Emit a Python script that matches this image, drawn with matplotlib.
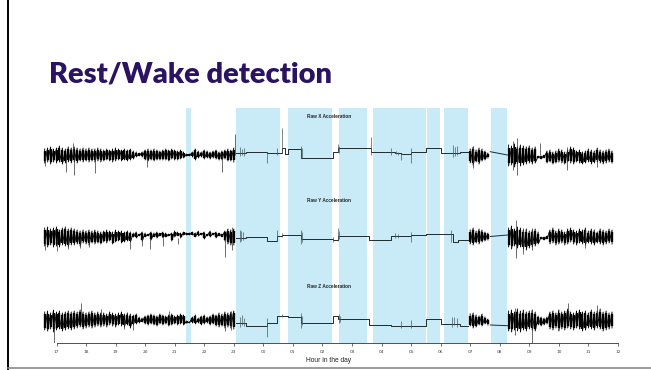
import numpy as np
import matplotlib.pyplot as plt
from matplotlib.lines import Line2D

# hour axis on a running scale: 24 = midnight, 36 = noon of the next day
ticks = list(range(17, 37))
tick_labels = ["17", "18", "19", "20", "21", "22", "23", "00", "01", "02",
               "03", "04", "05", "06", "07", "08", "09", "10", "11", "12"]

# detected rest periods (shaded)
rest_spans = [(21.37, 21.54), (23.06, 24.56), (24.82, 26.33), (26.55, 27.51),
              (27.70, 29.49), (29.55, 29.99), (30.10, 30.92), (31.70, 32.26)]

# active periods, 0.1 h bins: 16.6-23.0, 31.0-31.6, 32.3-35.8
bin_t = np.concatenate([np.arange(166, 231), np.arange(310, 317),
                        np.arange(323, 359)]) / 10

# ---- Raw X ----
x_hi = ([6, 7, 8, 6, 7, 9, 7, 6, 8, 7, 8, 7, 6, 7, 6, 7, 6, 6, 7, 6,
         5, 6, 5, 6, 7, 6, 5, 6, 5, 6, 4, 3, 2, 3, 5, 6, 5, 6, 5, 4,
         5, 6, 5, 6, 5, 4, 5, 3, 1, 1,
         3, 6, 4, 3, 5, 4, 3, 4, 5, 3, 4, 5, 6, 5, 7]
        + [6, 8, 5, 7, 6, 4, 2]
        + [10, 9, 11, 8, 10, 9, 8, 9, 7, 8, -1, -1, 0,
           4, 5, 3, 4, 6, 5, 3, 5, 8, 7, 4, 5, 3, 4, 6, 5, 4, 7, 5, 4, 5, 6, 4])
x_lo = ([-8, -7, -9, -7, -8, -7, -9, -8, -7, -8, -7, -8, -6, -7, -6, -7, -6, -7, -6, -7,
         -6, -5, -6, -7, -6, -5, -6, -5, -6, -5, -4, -2, -1, -2, -5, -6, -5, -6, -5, -5,
         -5, -5, -6, -4, -5, -5, -4, -3, -1, -1,
         -2, -5, -3, -2, -4, -3, -4, -3, -4, -5, -5, -4, -6, -6, -7]
        + [-8, -10, -7, -9, -6, -5, -3]
        + [-11, -10, -12, -9, -11, -10, -9, -8, -9, -8, -3, -4, -3,
           -8, -7, -9, -8, -7, -8, -9, -7, -8, -9, -7, -8, -9, -8, -7, -9, -8, -7, -8, -9, -8, -7, -8])
x_spikes = [(16.6, -11, 0), (17.32, -17, 0), (17.56, 0, 12), (17.6, -20, 0),
            (18.3, -18, 0), (20.05, -12, 0), (22.59, -17, 0), (23.04, 0, 21),
            (31.1, -13, 9), (32.45, -15, 14), (32.6, -20, 17), (33.36, 0, 12),
            (34.27, -15, 8), (35.28, -12, 0)]
x_rest_t = [23.06, 23.42, 24.13, 24.47, 24.64, 24.72, 24.83, 25.28, 26.36, 26.53,
            27.54, 27.65, 28.44, 28.67, 28.99, 29.51, 30.02, 30.66, 30.94]
x_rest_v = [2.5, 2.7, 2.3, 2.3, 7.3, 0.7, 5.7, -2.7, 3.3, 7.3,
            7.3, 3.3, 1.7, 0.7, 3.3, 7.3, 1.7, 3.3, 3.3]
x_blips = [(23.22, -1, 8), (23.28, 0, 6), (23.33, -1, 7), (24.13, -8.3, 3),
           (24.47, 0, 6.7), (24.64, 2, 26.7), (25.28, -3.3, 9.3), (25.32, -3, 7),
           (26.53, 3, 10.7), (26.57, 2, 9), (27.65, 0, 18.3), (28.33, 0, 6.7),
           (28.5, 1, 4), (28.56, 0.5, 3.5), (28.67, -5, 1), (28.99, -8.3, 6.7),
           (30.43, -1.7, 10), (30.5, -1, 8), (30.56, 0, 9)]
x_gap = [3.3, 0]

# ---- Raw Y ----
y_hi = ([10, 11, 9, 10, 11, 8, 10, 11, 9, 10, 9, 8, 7, 8, 7, 8, 7, 8, 7, 6,
         7, 8, 7, 6, 8, 7, 7, 6, 7, 6, 5, 6, 4, 6, 5, 4, 6, 5, 6, 5,
         6, 5, 4, 5, 7, 6, 5, 6, 5, 5,
         6, 5, 7, 5, 6, 4, 7, 5, 6, 5, 4, 7, 9, 8, 9]
        + [8, 10, 7, 9, 8, 6, 5]
        + [10, 12, 9, 11, 10, 8, 9, 7, 8, 9, 6, 1, 1, 2,
           8, 10, 7, 9, 8, 6, 9, 10, 8, 7, 9, 8, 10, 7, 9, 8, 6, 9, 8, 7, 9, 8])
y_lo = ([-8, -9, -7, -9, -8, -9, -7, -8, -9, -7, -7, -6, -8, -5, -6, -7, -5, -6, -5, -6,
         -4, -5, -3, -6, -4, -3, -5, -4, -3, -4, 1, 0, 2, -3, 1, 2, -2, 1, 0, 2,
         0, 1, 2, -3, 1, 2, 0, 3, 3, 3,
         3, 1, 2, 3, -1, 2, 1, 3, 0, 2, 1, -3, -6, -7, -7]
        + [-6, -7, -5, -6, -4, -3, -2]
        + [-9, -11, -8, -10, -9, -11, -12, -10, -9, -8, -6, -1, -2, -1,
           -6, -5, -7, -6, -5, -7, -6, -4, -6, -7, -5, -6, -7, -5, -6, -7, -5, -6, -7, -6, -5, -6])
y_spikes = [(16.6, -12, 0), (17.0, -13, 0), (17.4, -11, 0), (17.8, -10, 0),
            (18.1, -9, 0), (19.5, -11, 0), (19.9, -8, 0), (20.16, -11, 0),
            (20.6, -8, 0), (21.1, -6, 0), (22.7, -19, 0), (22.95, -12, 11),
            (32.55, -20, 18), (32.8, -16, 10), (33.1, -12, 10), (34.9, -10, 9)]
y_rest_t = [23.06, 23.42, 24.13, 24.47, 24.64, 25.28, 26.36, 26.53, 27.58,
            28.33, 28.99, 29.51, 30.43, 30.60, 30.94]
y_rest_v = [-0.3, 1.3, -3, 2.3, 3, -1, -2, 2.3, -2, 2.3, 3, 3.7, -3.7, -2, -2]
y_blips = [(23.2, -4, 8), (23.26, -3, 7), (23.3, -2, 6), (24.47, -3, 7.7),
           (24.64, 1.5, 4.8), (25.28, -6.3, 8), (25.31, -4, 6), (26.36, -3.7, 1.3),
           (26.53, -3, 10.3), (26.57, -1, 7), (28.44, 0.3, 5), (28.56, 0.5, 4.5),
           (28.99, -3.7, 6.3), (30.36, -3.7, 8)]
y_gap = [1.5, 3]

# ---- Raw Z ----
z_hi = ([8, 9, 7, 10, 8, 9, 7, 8, 9, 8, 9, 8, 10, 8, 7, 8, 9, 7, 8, 7,
         7, 6, 8, 7, 6, 7, 8, 6, 7, 6, 5, 6, 3, 2, 4, 5, 6, 5, 4, 6,
         5, 4, 5, 6, 4, 5, 6, 5, -1, -2,
         3, 5, 2, 4, 5, 3, 4, 6, 5, 7, 6, 8, 7, 8, 9]
        + [6, 7, 5, 4, 6, 3, 1]
        + [9, 10, 8, 11, 9, 10, 8, 9, 10, 8, 4, 3, 2, 3,
           8, 9, 7, 10, 8, 9, 11, 8, 7, 9, 10, 8, 9, 7, 10, 8, 9, 11, 8, 9, 7, 8])
z_lo = ([-10, -11, -9, -12, -10, -9, -11, -10, -9, -10, -9, -8, -7, -9, -8, -7, -8, -7, -6, -7,
         -6, -7, -5, -6, -7, -5, -6, -7, -5, -8, -5, -4, -3, -2, -4, -5, -4, -5, -6, -4,
         -5, -4, -6, -5, -4, -5, -4, -5, -3, -3,
         -3, -4, -3, -5, -4, -3, -5, -4, -6, -7, -6, -8, -7, -8, -9]
        + [-6, -8, -7, -5, -6, -4, -5]
        + [-11, -12, -10, -11, -12, -10, -11, -9, -10, -11, -5, -6, -5, -4,
           -9, -10, -8, -11, -9, -10, -8, -9, -10, -8, -9, -11, -10, -8, -9, -10, -8, -9, -11, -10, -9, -8])
z_spikes = [(16.92, -23, 0), (17.83, 0, 17), (18.5, 0, 11), (19.3, -9, 0),
            (19.6, -10, 0), (20.8, 0, 9), (22.7, -11, 0), (22.9, -10, 9),
            (32.5, -15, 12), (33.08, -25, 0), (34.32, 0, 17), (35.28, 0, 15)]
z_rest_t = [23.06, 23.42, 24.13, 24.47, 24.83, 25.28, 26.36, 26.53, 27.58,
            28.33, 29.51, 30.02, 30.66, 30.94]
z_rest_v = [-3.3, -5.7, -3.3, 4.3, 3.3, -2.7, 4.3, 1, -5, -5.7, 0.7, -4.3, -5.7, -5.7]
z_blips = [(23.22, -6.7, 3.3), (23.28, -5, 5), (23.33, -6, 2), (24.13, -16.7, 1.7),
           (24.64, 3, 6), (25.28, -7.7, 6.7), (25.31, -5, 4), (26.57, -3.3, 5.7),
           (26.6, -2, 4), (28.67, -7.7, -1), (28.99, -8.3, 0), (30.4, -6.7, 3),
           (30.46, -5, 3), (30.55, -6.7, 2)]
z_gap = [-5, -5.7]

gap_t = [31.68, 32.26]

W, H = 651, 370
fig = plt.figure(figsize=(W / 100, H / 100), dpi=100)
fig.patch.set_facecolor("white")

# plot area in pixels: x from 40 to 622, y from 108 to 342.7 (top-down)
px_per_h = 29.55
ax = fig.add_axes([40 / W, (H - 342.7) / H, 582 / W, 234.7 / H])
ax.set_xlim(17 + (40 - 56.5) / px_per_h, 17 + (622 - 56.5) / px_per_h)
ax.set_ylim(0, 234.7)
ax.patch.set_alpha(0)

for a, b in rest_spans:
    ax.axvspan(a, b, color="#c9ebf7", lw=0, zorder=0)

# break the zig-zag between separate active periods
breaks = np.where(np.diff(bin_t) > 0.15)[0] + 1


def draw_trace(base, hi, lo, spikes, rest_t, rest_v, blips, gap):
    hi = base + np.array(hi, float)
    lo = base + np.array(lo, float)
    # dense core of the active signal
    mid = (hi + lo) / 2
    ax.vlines(bin_t, mid + (lo - mid) * 0.75, mid + (hi - mid) * 0.75,
              color="black", lw=1.7, zorder=3)
    # raw signal swinging between the bin extremes
    for seg_t, seg_hi, seg_lo in zip(np.split(bin_t, breaks), np.split(hi, breaks),
                                     np.split(lo, breaks)):
        zt = np.repeat(seg_t, 2)
        zy = np.column_stack([seg_hi, seg_lo]).ravel()
        ax.plot(zt, zy, color="black", lw=0.65, zorder=3)
    st, slo, shi = zip(*spikes)
    ax.vlines(st, base + np.array(slo), base + np.array(shi),
              color="#333333", lw=0.5, zorder=3)
    ax.step(rest_t, base + np.array(rest_v), where="post",
            color="#1d2b30", lw=0.7, zorder=3)
    bt, blo, bhi = zip(*blips)
    ax.vlines(bt, base + np.array(blo), base + np.array(bhi),
              color="#4a5a60", lw=0.5, zorder=3)
    ax.plot(gap_t, base + np.array(gap), color="#1d2b30", lw=0.7, zorder=3)


draw_trace(187.7, x_hi, x_lo, x_spikes, x_rest_t, x_rest_v, x_blips, x_gap)
draw_trace(104.7, y_hi, y_lo, y_spikes, y_rest_t, y_rest_v, y_blips, y_gap)
draw_trace(22.7, z_hi, z_lo, z_spikes, z_rest_t, z_rest_v, z_blips, z_gap)

for s in ["left", "right", "top"]:
    ax.spines[s].set_visible(False)
ax.spines["bottom"].set_bounds(17, 36)
ax.spines["bottom"].set_linewidth(0.6)
ax.spines["bottom"].set_color("#333333")
ax.set_yticks([])
ax.set_xticks(ticks)
ax.set_xticklabels(tick_labels)
ax.tick_params(axis="x", length=2, width=0.5, color="#333333",
               labelsize=3.2, labelcolor="#444444", pad=3)

# panel titles and axis label
for name, ypx in [("Raw X Acceleration", 117), ("Raw Y Acceleration", 201),
                  ("Raw Z Acceleration", 286)]:
    fig.text(329 / W, 1 - ypx / H, name, ha="center", va="center",
             fontsize=3.4, fontweight="bold", family="Liberation Sans", color="#222222")
fig.text(329 / W, 1 - 360 / H, "Hour in the day", ha="center", va="center",
         fontsize=4.8, family="Liberation Sans", color="#222222")

# slide title
fig.text(49 / W, 1 - 82.7 / H, "Rest/Wake detection", ha="left", va="baseline",
         fontsize=21, fontweight="heavy", family="Lato", color="#2a1462")

# slide frame
fig.add_artist(Line2D([7.5 / W, 7.5 / W], [0, 1], color="black", lw=1.4))
fig.add_artist(Line2D([7.5 / W, 1], [1 - 367.5 / H, 1 - 367.5 / H],
                      color="#8a8a8a", lw=1.2))

fig.savefig("out.png", dpi=100)
